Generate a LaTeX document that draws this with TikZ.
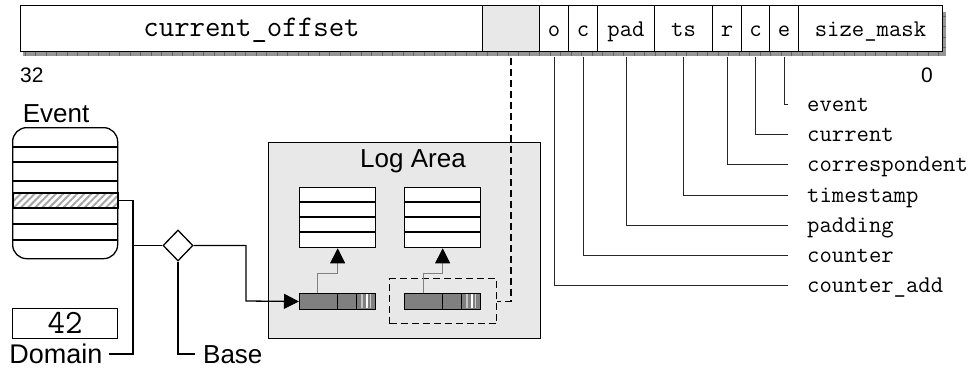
\documentclass[tikz,border=0pt]{standalone}
\usepackage{fontspec}
\setmainfont{Liberation Sans}
\usetikzlibrary{arrows.meta,calc,shapes.geometric,patterns.meta}
\definecolor{panel}{RGB}{232,232,232}
\definecolor{barfill}{RGB}{128,128,128}
\definecolor{rimfill}{RGB}{150,150,150}
\definecolor{rimtick}{RGB}{100,100,100}

\begin{document}
\begin{tikzpicture}[x=1pt,y={(0pt,-1pt)},
  code/.style={font=\ttfamily\fontsize{24}{24}\selectfont, text height=15pt, text depth=0pt, inner sep=0pt},
  label/.style={font=\fontsize{26}{26}\selectfont, inner sep=0pt},
  field/.style={draw, line width=1pt, inner sep=0pt, minimum height=46pt, anchor=north west, code},
  tap/.style={draw=black!85, line width=1pt},
  wire/.style={draw, line width=1.3pt},
  box/.style={draw, line width=1.3pt, inner sep=0pt, anchor=north west},
  entry/.style={draw, line width=1pt, fill=barfill, minimum width=76pt, minimum height=16pt, inner sep=0pt, anchor=north west},
  ptr/.style={draw=gray, line width=0.7pt, -{Triangle[length=15pt,width=15pt,color=black]}},
  tip/.style={-{Triangle[length=15pt,width=15pt]}},
  sel/.style={draw, line width=1.3pt, dash pattern=on 7pt off 4pt},
  ]
\useasboundingbox (0,0) rectangle (972,370);

% ---- register layout ----
\node[field, minimum width=462pt, font=\ttfamily\fontsize{30}{30}\selectfont] (off) at (20,5) {current\_offset};
\node[field, minimum width=57pt, fill=panel] (gap) at (482,5) {};
\node[field, minimum width=29pt] (fo) at (539,5) {o};
\node[field, minimum width=29pt] (fc) at (568,5) {c};
\node[field, minimum width=57pt] (fpad) at (597,5) {pad};
\node[field, minimum width=58pt] (fts) at (654,5) {ts};
\node[field, minimum width=29pt] (fr) at (712,5) {r};
\node[field, minimum width=28pt] (fcur) at (741,5) {c};
\node[field, minimum width=29pt] (fe) at (769,5) {e};
\node[field, minimum width=144pt] (fsz) at (798,5) {size\_mask};

% textured rim under and right of the register
\fill[rimfill] (23,51.5) rectangle (946,56);
\fill[rimfill] (942.5,12) rectangle (946,56);
\foreach \i in {0,...,87} \draw[rimtick, line width=0.8pt] (25+10.5*\i,51.5) -- ++(0,4.5);
\foreach \j in {0,...,3} \draw[rimtick, line width=0.8pt] (942.5,16+10.5*\j) -- ++(3.5,0);

\node[label, font=\fontsize{21}{21}\selectfont, anchor=base west] (hi) at (20,82) {32};
\node[label, font=\fontsize{21}{21}\selectfont, anchor=base east] (lo) at (933,82) {0};

% ---- flag names ----
\node[code, anchor=west] (lev) at (807,104) {event};
\node[code, anchor=west] (lcur) at (807,134) {current};
\node[code, anchor=west] (lcor) at (807,164) {correspondent};
\node[code, anchor=west] (lts) at (807,195) {timestamp};
\node[code, anchor=west] (lpad) at (807,225) {padding};
\node[code, anchor=west] (lcnt) at (807,255) {counter};
\node[code, anchor=west] (ladd) at (807,285) {counter\_add};

\draw[tap, shorten >=19pt] (fe.south) ++(0,5) |- (lev.west);
\draw[tap, shorten >=19pt] (fcur.south) ++(0,5) |- (lcur.west);
\draw[tap, shorten >=19pt] (fr.south) ++(0,5) |- (lcor.west);
\draw[tap, shorten >=19pt] (fts.south) ++(0,5) |- (lts.west);
\draw[tap, shorten >=19pt] (fpad.south) ++(0,5) |- (lpad.west);
\draw[tap, shorten >=19pt] (fc.south) ++(0,5) |- (lcnt.west);
\draw[tap, shorten >=19pt] (fo.south) ++(0,5) |- (ladd.west);

% ---- log area ----
\node[box, fill=panel, minimum width=272pt, minimum height=196pt] (log) at (268,142) {};
\node[label, anchor=base] (logt) at (413,167) {Log Area};

\node[box, fill=white, minimum width=76pt, minimum height=60pt] (t1) at (299,187) {};
\node[box, fill=white, minimum width=76pt, minimum height=60pt] (t2) at (404,187) {};
\foreach \k in {1,2,3} {
  \draw[line width=1.3pt] (299,187+15*\k) -- (375,187+15*\k);
  \draw[line width=1.3pt] (404,187+15*\k) -- (480,187+15*\k);
}

\node[entry] (e1) at (299,293) {};
\node[entry] (e2) at (404,293) {};
\foreach \x in {299,404} {
  \fill[gray!45] (\x+61.5,293.6) rectangle (\x+63.5,308.4);
  \fill[white] (\x+66.5,293.6) rectangle (\x+68.5,308.4);
  \fill[gray!40] (\x+70.5,293.6) rectangle (\x+72,308.4);
  \draw[line width=1pt] (\x+38,293) -- (\x+38,309);
  \draw[line width=1pt] (\x+57,293) -- (\x+57,309);
}

\node[sel, minimum width=107pt, minimum height=45pt, inner sep=0pt, anchor=north west] (dsel) at (389,278) {};

\draw[ptr] (e1.north west) ++(18,0) |- ($(t1.south)+(0,25)$) -- (t1.south);
\draw[ptr] (e2.north west) ++(19,0) |- ($(t2.south)+(0,25)$) -- (t2.south);

\draw[sel] (gap.south) ++(0,6) |- (dsel.east);

% ---- event record ----
\node[label, anchor=base] (evt) at (56,122) {Event};
\node[box, rounded corners=14pt, minimum width=105pt, minimum height=131pt] (ev) at (12,127) {};
\foreach \yy in {147,162,181,224,240} \draw[line width=1.3pt] (12,\yy) -- (117,\yy);
\node[box, minimum width=105pt, minimum height=15pt,
      pattern={Lines[angle=45,distance=5pt,line width=2pt]}, pattern color=gray!70] (evsel) at (12,192) {};

\node[box, minimum width=105pt, minimum height=30pt, font=\ttfamily\fontsize{34}{34}\selectfont,
      text height=20pt, text depth=0pt] (val) at (12,308) {42};
\node[label, font=\fontsize{27}{27}\selectfont, anchor=base, text height=18pt, text depth=0pt, inner xsep=6pt] (dom) at (56,363) {Domain};
\node[label, anchor=base west, text height=18pt, text depth=0pt, inner xsep=8pt] (base) at (195,363) {Base};

\node[diamond, draw, line width=1.3pt, fill=white, aspect=1, minimum width=30pt, minimum height=31pt, inner sep=0pt] (dia) at (178,245.5) {};

\coordinate (join) at (133,245.5);
\coordinate (bend) at (246,301);
\draw[wire] (evsel.east) -| (join) -- (dia.west);
\draw[wire] (dom.east) -| (join);
\draw[wire] (dia.south) |- (base.west);
\draw[wire, tip] (dia.east) -| (bend) -- (e1.west);
\end{tikzpicture}
\end{document}
